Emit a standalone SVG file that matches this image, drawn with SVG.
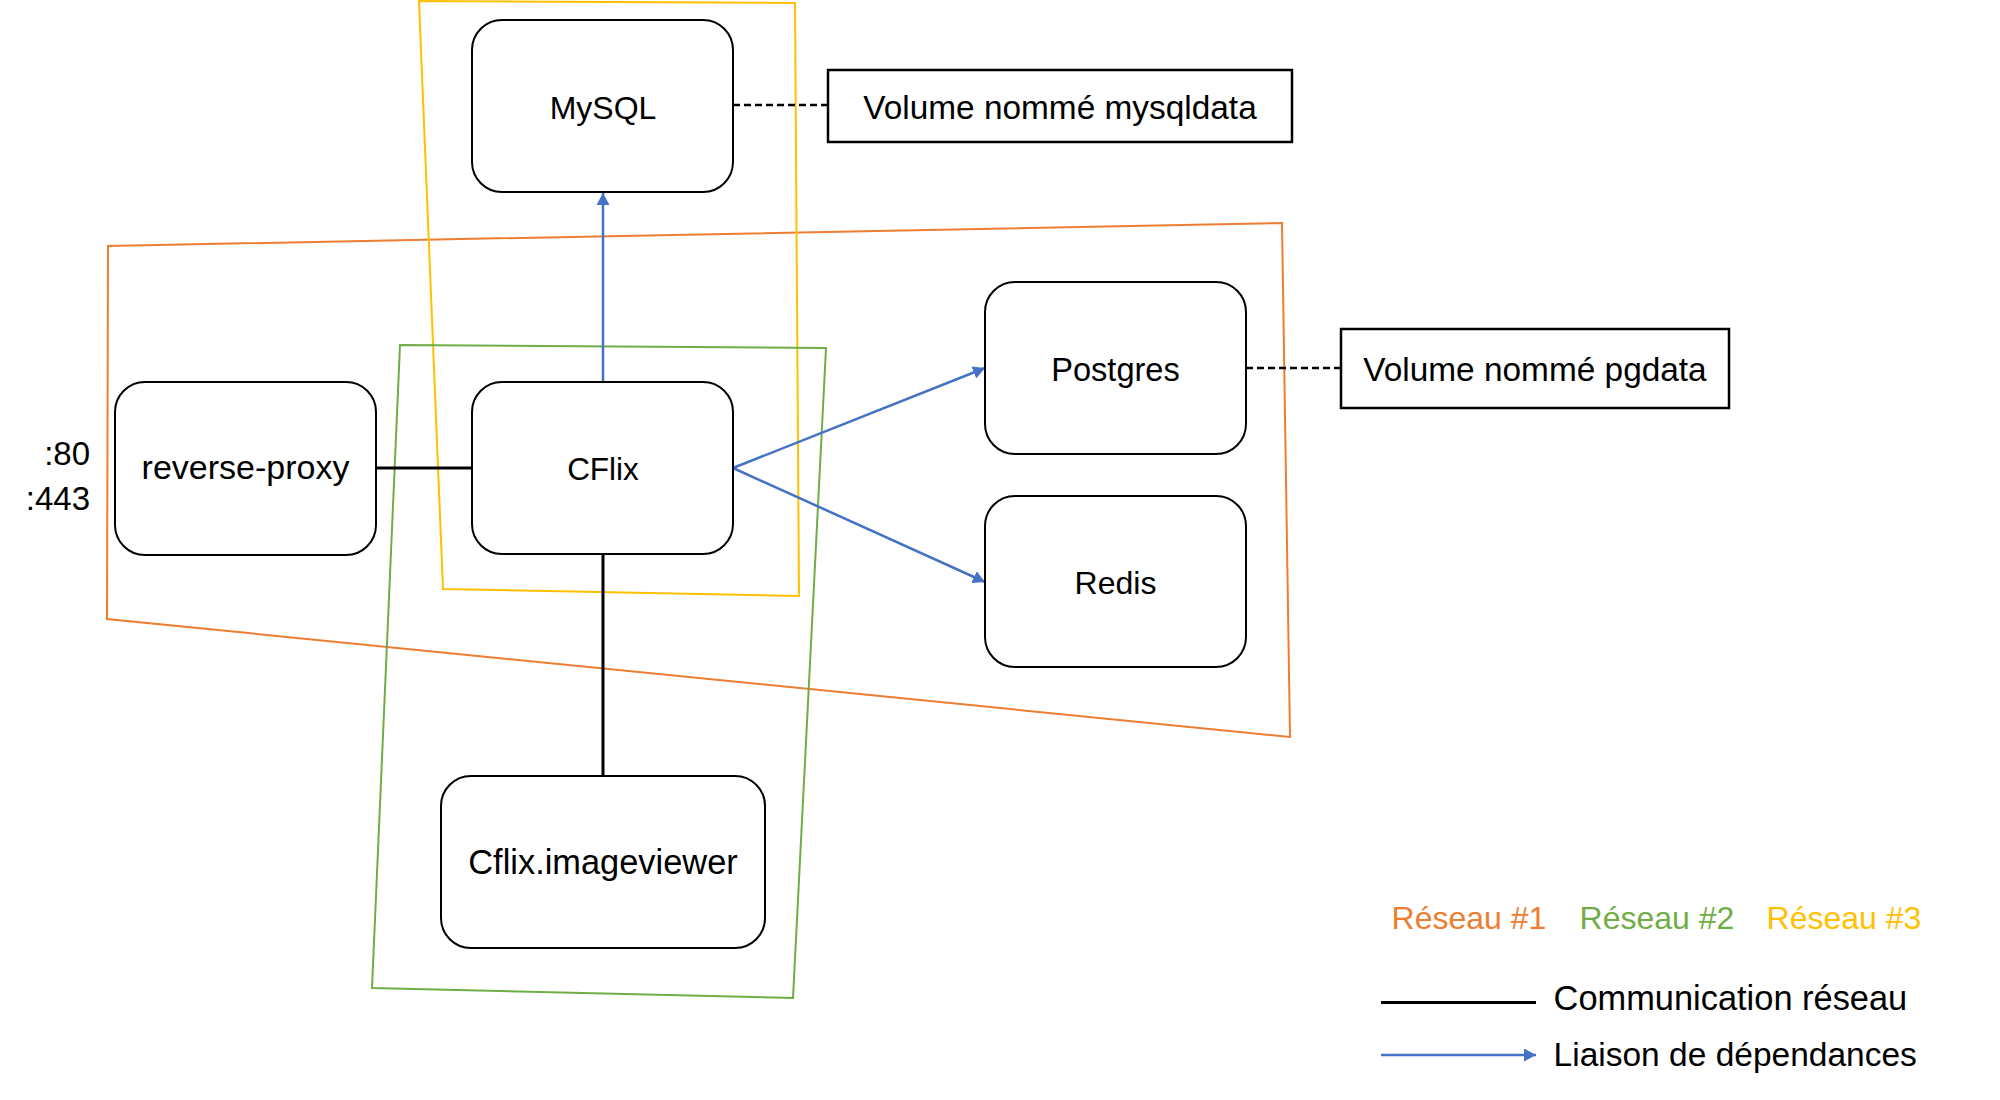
<svg xmlns="http://www.w3.org/2000/svg" width="2000" height="1100" viewBox="0 0 2000 1100">
<defs>
<marker id="arr" markerUnits="userSpaceOnUse" markerWidth="13" markerHeight="13" refX="12" refY="6.5" orient="auto">
<path d="M0,0 L12,6.5 L0,13 z" fill="#4472C4"/>
</marker>
<style>
.net{fill:none;stroke-width:2}
.node rect{fill:#fff;stroke:#000;stroke-width:2}
.vol rect{fill:#fff;stroke:#000;stroke-width:2.5}
text{font-family:"Liberation Sans",Arial,sans-serif;font-size:32px;fill:#000}
.c{text-anchor:middle}
.comm{stroke:#000;stroke-width:3;fill:none}
.dep{stroke:#4472C4;stroke-width:2.5;fill:none;marker-end:url(#arr)}
.dash{stroke:#000;stroke-width:2.5;stroke-dasharray:7,4;fill:none}
</style>
</defs>
<rect width="2000" height="1100" fill="#fff"/>
<g id="networks">
<polygon class="net" stroke="#ED7D31" points="108,246 1282,223 1290,737 107,619"/>
<polygon class="net" stroke="#FFC000" points="419,1 795,3 799,596 443,589"/>
<polygon class="net" stroke="#70AD47" points="400,345 826,348 793,998 372,988"/>
</g>
<g id="connectors">
<line class="comm" x1="376" y1="468" x2="472" y2="468"/>
<line class="comm" x1="603" y1="554" x2="603" y2="776"/>
<line class="dep" x1="603" y1="382" x2="603" y2="193"/>
<line class="dep" x1="733" y1="468" x2="985" y2="368"/>
<line class="dep" x1="733" y1="468" x2="985" y2="582"/>
<line class="dash" x1="733" y1="105" x2="828" y2="105"/>
<line class="dash" x1="1246" y1="368" x2="1341" y2="368"/>
</g>
<g id="mysql" class="node"><rect x="472" y="20" width="261" height="172" rx="30"/><text class="c" x="603" y="119">MySQL</text></g>
<g id="vol-mysqldata" class="vol"><rect x="828" y="70" width="464" height="72"/><text class="c" x="1060" y="119" style="font-size:33.4px">Volume nommé mysqldata</text></g>
<g id="reverse-proxy" class="node"><rect x="115" y="382" width="261" height="173" rx="30"/><text class="c" x="245.5" y="479" style="font-size:34px">reverse-proxy</text></g>
<g id="ports"><text x="90" y="465" text-anchor="end" style="font-size:33px">:80</text><text x="90" y="510" text-anchor="end" style="font-size:33px">:443</text></g>
<g id="cflix" class="node"><rect x="472" y="382" width="261" height="172" rx="30"/><text class="c" x="603" y="480" style="font-size:31.5px">CFlix</text></g>
<g id="postgres" class="node"><rect x="985" y="282" width="261" height="172" rx="30"/><text class="c" x="1115.5" y="381" style="font-size:32.6px">Postgres</text></g>
<g id="vol-pgdata" class="vol"><rect x="1341" y="329" width="388" height="79"/><text class="c" x="1535" y="381" style="font-size:33.4px">Volume nommé pgdata</text></g>
<g id="redis" class="node"><rect x="985" y="496" width="261" height="171" rx="30"/><text class="c" x="1115.5" y="594">Redis</text></g>
<g id="imageviewer" class="node"><rect x="441" y="776" width="324" height="172" rx="30"/><text class="c" x="603" y="874" style="font-size:34.4px">Cflix.imageviewer</text></g>
<g id="legend">
<text class="c" x="1469" y="929" style="fill:#ED7D31">Réseau #1</text>
<text class="c" x="1657" y="929" style="fill:#70AD47">Réseau #2</text>
<text class="c" x="1844" y="929" style="fill:#FFC000">Réseau #3</text>
<line class="comm" x1="1381" y1="1002.5" x2="1536" y2="1002.5"/>
<text x="1553.6" y="1009.5" style="font-size:34.4px">Communication réseau</text>
<line class="dep" x1="1381" y1="1055" x2="1536" y2="1055"/>
<text x="1553.6" y="1065.6" style="font-size:33.5px">Liaison de dépendances</text>
</g>
</svg>
